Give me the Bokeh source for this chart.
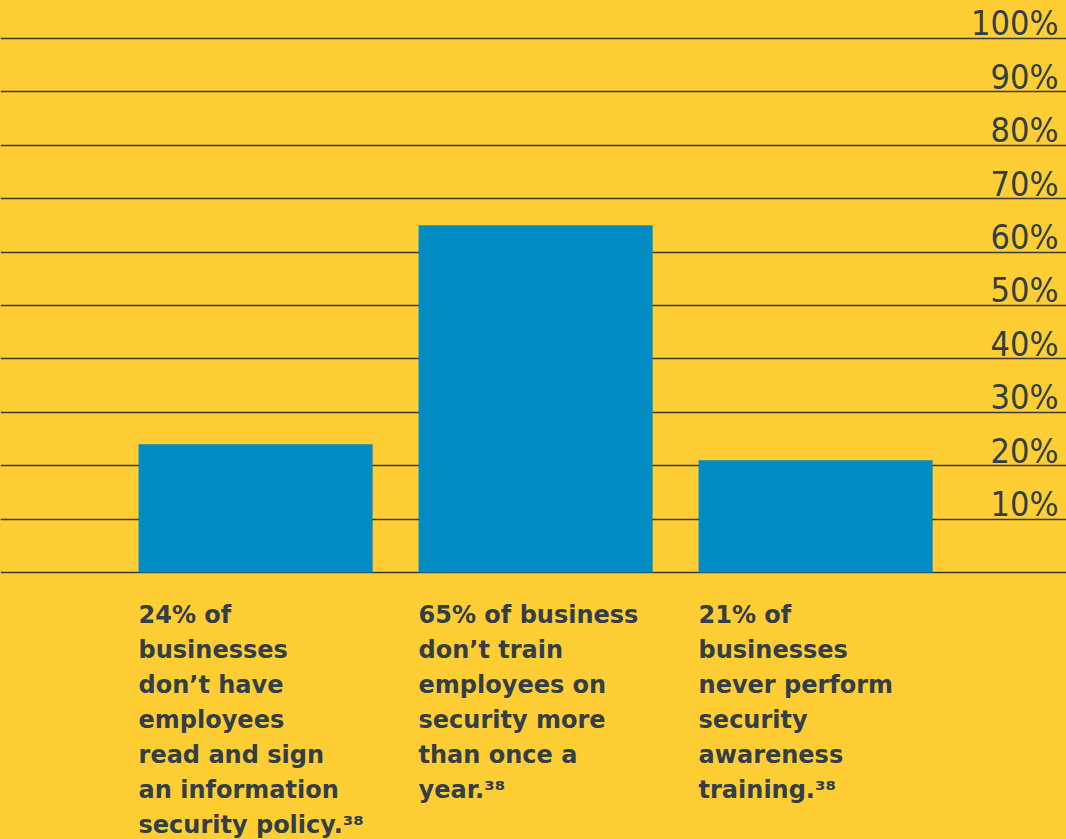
from bokeh.plotting import figure
from bokeh.models import Range1d
from bokeh.core.properties import value
from bokeh.embed import file_html
from bokeh.resources import INLINE

# ---- data ----
categories = ["policy", "training", "awareness"]
percent = [24, 65, 21]
captions = [
    "24% of\nbusinesses\ndon\u2019t have\nemployees\nread and sign\nan information\nsecurity policy.\u00b3\u2078",
    "65% of business\ndon\u2019t train\nemployees on\nsecurity more\nthan once a\nyear.\u00b3\u2078",
    "21% of\nbusinesses\nnever perform\nsecurity\nawareness\ntraining.\u00b3\u2078",
]
grid_levels = [0, 10, 20, 30, 40, 50, 60, 70, 80, 90, 100]
tick_levels = [10, 20, 30, 40, 50, 60, 70, 80, 90, 100]
tick_labels = ["10%", "20%", "30%", "40%", "50%", "60%", "70%", "80%", "90%", "100%"]

# ---- styling / layout ----
W, H = 1066, 839
BG = "#FFCE34"
BAR = "#008BC3"
INK = "#323E48"
BAR_W = 0.836

X_START, X_END = -0.911, 2.896
Y_START, Y_END = -50.0, 107.1

p = figure(width=W, height=H, output_backend="svg", toolbar_location=None,
           x_range=Range1d(X_START, X_END), y_range=Range1d(Y_START, Y_END),
           min_border=0, min_border_left=0, min_border_right=0,
           min_border_top=0, min_border_bottom=0)
p.axis.visible = False
p.grid.visible = False
p.outline_line_color = None
p.background_fill_color = BG
p.border_fill_color = BG

# gridlines (behind bars)
p.hspan(y=grid_levels, line_color="#3A3A3A", line_width=1.3)

# bars
xs = list(range(len(categories)))
p.vbar(x=xs, top=percent, bottom=0, width=BAR_W, fill_color=BAR, line_color=None)

# right-side tick labels, sitting on top of gridlines
p.text(x=[X_END] * len(tick_levels), y=tick_levels, text=tick_labels,
       text_align="right", text_baseline="bottom",
       x_offset=-8, y_offset=5,
       text_font=value("'DejaVu Sans Condensed', 'Liberation Sans Narrow', 'Roboto Condensed', Roboto, sans-serif"),
       text_font_size="34px",
       text_color=INK)

# captions under each bar, left-aligned with bar edge
p.text(x=[x - BAR_W / 2 for x in xs], y=[0] * len(xs), text=captions,
       text_align="left", text_baseline="top", x_offset=0, y_offset=29,
       text_font=value("DejaVu Sans"), text_font_style="bold",
       text_font_size="24px", text_line_height=1.246, text_color=INK)

html = file_html(p, INLINE)
html = html.replace("<body>", '<body style="margin:0;background:%s;">' % BG)
open("out.html", "w").write(html)
